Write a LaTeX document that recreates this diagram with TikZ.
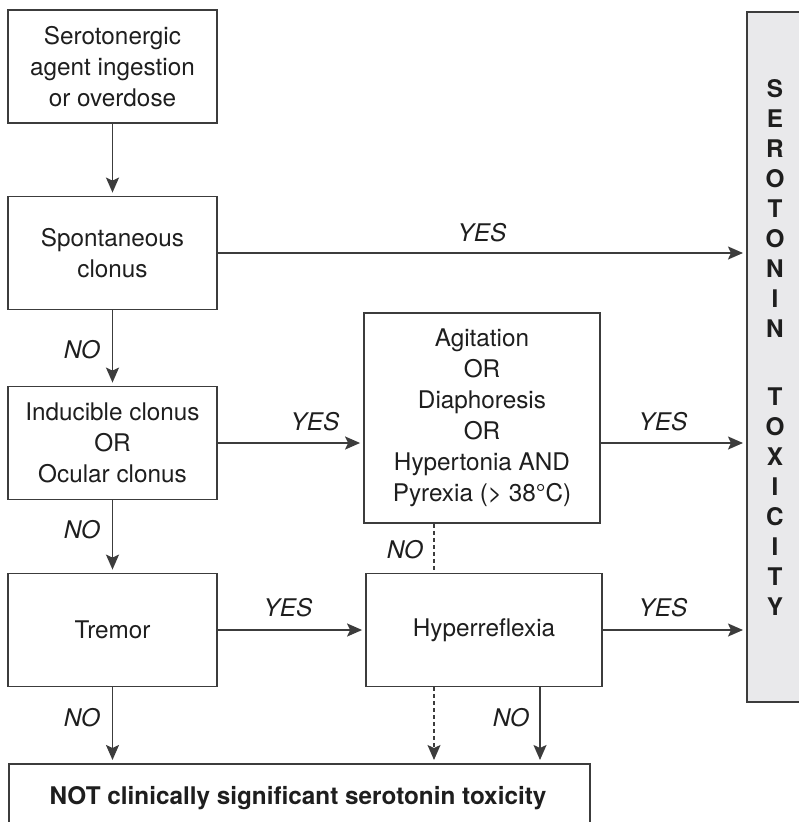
\documentclass[tikz,border=0pt]{standalone}
\usepackage{fontspec}
\setmainfont{TeX Gyre Heros}
\usetikzlibrary{arrows.meta}
\definecolor{ln}{HTML}{3C3C3C}
\definecolor{tx}{HTML}{1E1E1E}
\definecolor{gfill}{HTML}{E9E9EB}
\begin{document}
\begin{tikzpicture}[x=1pt,y=-1pt,
  every node/.style={text=tx, font=\fontsize{24.3}{31}\selectfont},
  box/.style={draw=ln, line width=1.8pt, fill=white, align=center, inner sep=0pt,
    minimum width=209pt, minimum height=113pt},
  bigbox/.style={box, minimum width=236pt},
  arr/.style={draw=ln, line width=1.8pt, -{Stealth[length=15pt,width=13pt,inset=3pt]}, shorten >=3pt},
  darr/.style={arr, dashed, dash pattern=on 4pt off 3pt, line width=1.3pt},
  lab/.style={font=\fontsize{24.3}{31}\selectfont\itshape, inner sep=0pt},
  vlet/.style={font=\fontsize{24.3}{30}\selectfont\bfseries, align=center, inner sep=0pt}
]
\useasboundingbox (0,0) rectangle (799,822);

% right column
\node[draw=ln, line width=1.8pt, fill=gfill, minimum width=60pt, minimum height=690pt, inner sep=0pt, anchor=north west] (rbox) at (746,11) {};
\node[vlet] (w1) at (775,208) {S\\E\\R\\O\\T\\O\\N\\I\\N};
\node[vlet] (w2) at (775,502) {T\\O\\X\\I\\C\\I\\T\\Y};

% left column
\node[box] (b1) at (112.5,66.5) {Serotonergic\\agent ingestion\\or overdose};
\node[box] (b2) at (112.5,253) {Spontaneous\\clonus};
\node[box] (b3) at (112.5,443) {Inducible clonus\\OR\\Ocular clonus};
\node[box] (b4) at (112.5,630) {Tremor};

% middle
\node[bigbox, minimum height=210pt] (b5) at (482,418) {Agitation\\OR\\Diaphoresis\\OR\\Hypertonia AND\\Pyrexia (> 38\textdegree C)};
\node[bigbox] (b6) at (484,630) {Hyperreflexia};

% bottom
\node[draw=ln, line width=1.8pt, fill=white, minimum width=581pt, minimum height=80pt, inner sep=0pt, anchor=north west] (bot) at (8,763) {};
\node[font=\fontsize{24.3}{31}\selectfont\bfseries] (bottxt) at (298,798) {NOT clinically significant serotonin toxicity};

% helper coordinates
\coordinate (dx) at (434,0);
\coordinate (nx) at (540,0);

% connectors
\draw[arr] (b1) -- (b2);
\draw[arr] (b2) -- (b3);
\draw[arr] (b3) -- (b4);
\draw[arr] (b4.south) -- (b4.south |- bot.north);
\draw[arr] (b2.east) -- (b2.east -| rbox.west);
\draw[arr] (b3.east) -- (b3.east -| b5.west);
\draw[arr] (b3.east -| b5.east) -- (b3.east -| rbox.west);
\draw[arr] (b4.east) -- (b4.east -| b6.west);
\draw[arr] (b6.east) -- (b6.east -| rbox.west);
\draw[draw=ln, line width=1.3pt, dash pattern=on 4pt off 3pt] (b5.south -| dx) -- (b6.north -| dx);
\draw[darr] (b6.south -| dx) -- (bot.north -| dx);
\draw[arr] (b6.south -| nx) -- (bot.north -| nx);

% labels
\node[lab] (y1) at (482,233) {YES};
\node[lab] (y2) at (315,422) {YES};
\node[lab] (y3) at (663,422) {YES};
\node[lab] (y4) at (288,608) {YES};
\node[lab] (y5) at (663,608) {YES};
\node[lab] (n1) at (82,350) {NO};
\node[lab] (n2) at (82,530) {NO};
\node[lab] (n3) at (82,718) {NO};
\node[lab] (n4) at (405,550) {NO};
\node[lab] (n5) at (511,718) {NO};
\end{tikzpicture}
\end{document}
